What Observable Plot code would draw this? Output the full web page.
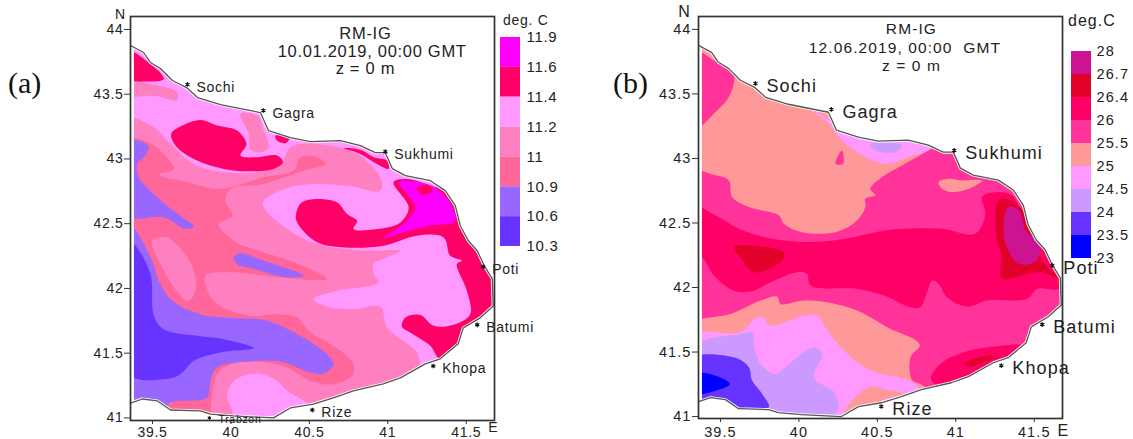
<!DOCTYPE html>
<html><head><meta charset="utf-8">
<script src="https://cdn.jsdelivr.net/npm/d3@7"></script>
<script src="https://cdn.jsdelivr.net/npm/@observablehq/plot@0.6"></script>
<style>
html,body{margin:0;padding:0;background:#fff;width:1133px;height:439px;overflow:hidden}
#root{position:relative;width:1133px;height:439px}
#root>div{position:absolute}
svg{overflow:visible;background:none!important}
.tag{font-family:"Liberation Serif",serif;font-size:30px;color:#111;line-height:32px}
</style></head><body><div id="root"></div>
<script>
const lonDomain=[39.36,41.68], xTicks=[39.5,40,40.5,41,41.5], yTicks=[41,41.5,42,42.5,43,43.5,44];
const coast=[[39.36,43.876],[39.443,43.822],[39.487,43.745],[39.551,43.698],[39.627,43.606],[39.717,43.551],[39.787,43.474],[39.933,43.42],[40.06,43.389],[40.188,43.358],[40.239,43.219],[40.379,43.165],[40.506,43.134],[40.697,43.142],[40.825,43.103],[40.92,43.049],[40.984,43.049],[41.029,42.925],[41.111,42.871],[41.271,42.832],[41.366,42.755],[41.43,42.639],[41.462,42.484],[41.513,42.368],[41.57,42.291],[41.615,42.175],[41.666,42.074],[41.672,41.865],[41.589,41.773],[41.481,41.695],[41.449,41.572],[41.334,41.456],[41.239,41.417],[41.08,41.309],[40.971,41.262],[40.78,41.208],[40.653,41.154],[40.525,41.107],[40.379,41.077],[40.271,41.0],[40.016,41.015],[39.869,41.03],[39.806,41.054],[39.615,41.061],[39.532,41.131],[39.436,41.146],[39.36,41.115]];
const landCorners=[[39.3,41.115],[39.3,40.8],[41.8,40.8],[41.8,44.3],[39.3,44.3],[39.3,43.876]];
const westEdge=39.385;

// Panel (a) legend
const ticksA=["11.9","11.6","11.4","11.2","11","10.9","10.6","10.3"];
const levelsA=["11.6","11.4","11.2","11","10.9","10.6","10.3"];
const colorsA=["#ff00ff","#ff0066","#ff99ff","#ff80c0","#ff6699","#9966ff","#6633ff"];
// Panel (a) isotherm regions, lon/lat, painted in order
const aBase=[[38,40],[43,40],[43,45],[38,45]];
const a11=[[39.3,43.31],[39.49,43.26],[39.615,43.116],[39.763,42.961],[39.954,42.897],[40.167,42.897],[40.315,42.948],[40.38,43.09],[40.549,43.116],[40.804,43.039],[40.952,42.858],[40.952,42.755],[40.74,42.794],[40.42,42.794],[40.209,42.678],[40.209,42.626],[40.358,42.459],[40.549,42.343],[40.719,42.304],[40.889,42.291],[41.08,42.291],[40.995,42.24],[40.91,42.188],[40.91,42.111],[40.94,42.046],[40.676,41.982],[40.528,41.917],[40.613,41.858],[40.783,41.84],[40.952,41.858],[40.995,41.698],[41.186,41.505],[41.207,41.39],[41.29,41.18],[41.3,40.8],[39.3,40.8]];
const a109=[[39.34,43.18],[39.509,43.103],[39.636,42.923],[39.54,42.879],[39.721,42.82],[39.933,42.768],[40.209,42.858],[40.4,42.91],[40.443,43.013],[40.549,43.013],[40.602,42.961],[40.464,42.91],[40.209,42.807],[39.997,42.768],[39.965,42.678],[40.008,42.562],[39.923,42.498],[40.018,42.369],[40.209,42.278],[40.379,42.214],[40.613,42.072],[40.315,42.085],[39.997,42.124],[39.838,42.098],[39.848,41.995],[39.912,41.879],[40.124,41.789],[40.294,41.801],[40.422,41.776],[40.496,41.673],[40.698,41.518],[40.782,41.415],[40.772,41.325],[40.655,41.26],[40.506,41.286],[40.358,41.389],[40.167,41.436],[40.018,41.42],[39.912,41.338],[39.88,41.183],[39.87,41.015],[39.87,40.8],[39.3,40.8],[39.3,43.18]];
const a106North=[[39.34,43.129],[39.424,43.137],[39.477,43.09],[39.445,43.013],[39.402,42.961],[39.413,42.858],[39.53,42.704],[39.647,42.588],[39.763,42.477],[39.71,42.459],[39.572,42.549],[39.34,42.562]];
const a106Wedge=[[40.018,42.24],[40.061,42.271],[40.209,42.214],[40.464,42.098],[40.358,42.085],[40.146,42.15],[40.039,42.188]];
const a106South=[[39.35,42.497],[39.381,42.471],[39.498,42.214],[39.54,42.059],[39.625,41.905],[39.806,41.801],[39.955,41.776],[40.23,41.75],[40.422,41.647],[40.528,41.57],[40.634,41.466],[40.655,41.415],[40.591,41.343],[40.506,41.35],[40.337,41.428],[40.124,41.436],[39.912,41.389],[39.87,41.286],[39.848,41.157],[39.604,41.111],[39.572,41.003],[39.35,41.0]];
const a103=[[39.35,42.368],[39.392,42.33],[39.487,42.111],[39.509,41.789],[39.572,41.685],[39.785,41.634],[39.955,41.608],[40.146,41.539],[39.933,41.505],[39.764,41.441],[39.678,41.338],[39.572,41.299],[39.35,41.338]];
const a112Lobe=[[39.976,41.157],[40.018,41.286],[40.167,41.343],[40.294,41.286],[40.358,41.209],[40.485,41.1],[40.273,40.97],[40.04,40.97],[39.997,41.093]];
const a11Oval=[[39.498,42.369],[39.594,42.394],[39.721,42.24],[39.774,42.085],[39.763,41.943],[39.721,41.905],[39.636,42.008],[39.551,42.188]];
const a114Eddy=[[39.619,43.193],[39.678,43.25],[39.806,43.301],[39.912,43.258],[40.039,43.219],[40.099,43.116],[40.061,43.026],[40.167,43.013],[40.294,43.026],[40.332,42.974],[40.273,42.923],[40.103,42.905],[39.954,42.923],[39.785,42.987],[39.657,43.09]];
const a114Corner=[[39.35,43.83],[39.487,43.734],[39.572,43.618],[39.466,43.598],[39.35,43.618]];
const a11Band=[[39.35,43.58],[39.657,43.515],[39.657,43.456],[39.509,43.489],[39.35,43.489]];
const a11Gagra=[[40.06,43.348],[40.167,43.335],[40.209,43.219],[40.241,43.09],[40.188,43.051],[40.124,43.077],[40.114,43.193],[40.082,43.27]];
const a114Spot=[[40.284,43.18],[40.375,43.167],[40.347,43.121],[40.294,43.142]];
const a114Sukhumi=[[40.719,43.082],[40.825,43.07],[40.91,43.013],[40.995,42.987],[41.005,42.923],[40.931,42.961],[40.825,43.039]];
const a114East=[[40.415,42.575],[40.453,42.665],[40.549,42.691],[40.676,42.665],[40.74,42.575],[40.804,42.523],[40.782,42.459],[40.931,42.459],[41.08,42.51],[41.133,42.626],[41.037,42.82],[41.122,42.845],[41.271,42.794],[41.398,42.73],[41.483,42.497],[41.568,42.291],[41.695,42.059],[41.695,41.853],[41.568,41.724],[41.483,41.66],[41.451,41.557],[41.334,41.454],[41.271,41.557],[41.143,41.66],[41.09,41.704],[41.112,41.776],[41.207,41.794],[41.292,41.711],[41.419,41.719],[41.525,41.801],[41.504,41.982],[41.44,42.188],[41.472,42.214],[41.398,42.252],[41.356,42.394],[41.186,42.407],[40.973,42.33],[40.719,42.317],[40.549,42.356],[40.422,42.51]];
const a116=[[41.069,42.82],[41.249,42.807],[41.366,42.716],[41.43,42.523],[41.271,42.485],[41.122,42.441],[40.973,42.389],[41.058,42.459],[41.133,42.536],[41.175,42.626],[41.111,42.742]];
const a114Streak=[[41.186,42.776],[41.25,42.8],[41.288,42.755],[41.218,42.724]];
const regionsA=[["11.2",aBase],["11",a11],["10.9",a109],["10.6",a106North],["10.6",a106Wedge],["10.6",a106South],["10.3",a103],["11.2",a112Lobe],["11",a11Oval],["11",a11Band],["11",a11Gagra],["11.4",a114Eddy],["11.4",a114Corner],["11.4",a114Spot],["11.4",a114Sukhumi],["11.4",a114East],["11.6",a116],["11.4",a114Streak]];
const citiesA=[["Sochi",39.723,43.575],["Gagra",40.207,43.374],["Sukhumi",40.984,43.056],["Poti",41.608,42.167],["Batumi",41.57,41.719],["Khopa",41.29,41.401],["Rize",40.519,41.061]];
const smallCityA=[["Trabzon",39.863,41.0]];

// Panel (b) legend
const ticksB=["28","26.7","26.4","26","25.5","25","24.5","24","23.5","23"];
const levelsB=["26.7","26.4","26","25.5","25","24.5","24","23.5","23"];
const colorsB=["#cc1493","#e0002a","#ff0066","#ff3399","#ff9999","#ff99ff","#cc99ff","#6633ff","#0000ff"];
// Panel (b) isotherm regions, lon/lat, painted in order
const bBase=[[38,40],[43,40],[43,45],[38,45]];
const b255North=[[39.3,43.85],[39.458,43.76],[39.585,43.644],[39.553,43.476],[39.479,43.372],[39.3,43.2]];
const b255Spot=[[40.233,42.959],[40.275,43.062],[40.282,42.959]];
const b245Coast=[[40.042,43.411],[40.19,43.269],[40.275,43.14],[40.445,42.998],[40.562,42.959],[40.7,43.011],[40.838,43.075],[40.742,43.166],[40.445,43.205],[40.212,43.295]];
const b24Coast=[[40.456,43.114],[40.657,43.101],[40.615,43.049],[40.488,43.062]];
const b255Main=[[39.3,42.894],[39.468,42.869],[39.553,42.83],[39.575,42.701],[39.681,42.623],[39.872,42.559],[39.904,42.494],[40.02,42.429],[40.233,42.429],[40.36,42.507],[40.424,42.623],[40.424,42.688],[40.488,42.714],[40.456,42.765],[40.53,42.856],[40.657,42.946],[40.827,43.062],[40.955,43.14],[41.464,42.933],[41.8,42.5],[41.8,41.7],[41.2,41.12],[40.88,41.175],[40.774,41.253],[40.721,41.284],[40.711,41.46],[40.77,41.558],[40.562,41.692],[40.371,41.821],[40.18,41.886],[40.031,41.899],[39.883,41.873],[39.861,41.93],[39.755,41.899],[39.564,41.795],[39.384,41.757],[39.3,41.72]];
const b25Sukhumi=[[40.891,42.817],[40.955,42.843],[41.039,42.83],[41.167,42.83],[41.082,42.765],[40.976,42.739],[40.912,42.765]];
const b26Main=[[39.3,42.649],[39.468,42.559],[39.617,42.455],[39.829,42.378],[40.084,42.352],[40.296,42.378],[40.487,42.429],[40.657,42.455],[40.912,42.455],[41.124,42.416],[41.188,42.571],[41.167,42.701],[41.252,42.739],[41.358,42.714],[41.464,42.468],[41.677,42.132],[41.73,42.08],[41.656,41.989],[41.518,41.989],[41.454,41.912],[41.199,41.899],[41.072,41.852],[40.944,41.925],[40.891,42.028],[40.849,42.054],[40.817,41.963],[40.774,41.847],[40.711,41.847],[40.541,41.938],[40.371,41.989],[40.074,42.015],[40.052,42.106],[39.989,42.119],[39.819,42.041],[39.713,41.976],[39.596,41.971],[39.458,42.093],[39.384,42.235],[39.3,42.286]];
const b26Khopa=[[40.842,41.305],[40.902,41.408],[41.05,41.498],[41.305,41.55],[41.422,41.55],[41.305,41.434],[41.093,41.305],[40.944,41.24],[40.859,41.258]];
const b264Khopa=[[41.05,41.408],[41.156,41.46],[41.273,41.472],[41.178,41.421],[41.082,41.387]];
const b264West=[[39.585,42.312],[39.692,42.325],[39.904,42.274],[39.893,42.209],[39.713,42.118],[39.628,42.235]];
const b264East=[[41.262,42.649],[41.294,42.688],[41.411,42.623],[41.507,42.365],[41.549,42.21],[41.645,42.08],[41.549,42.119],[41.422,42.093],[41.294,42.068],[41.284,42.158],[41.294,42.236],[41.262,42.365]];
const b267=[[41.326,42.61],[41.358,42.628],[41.411,42.584],[41.443,42.442],[41.528,42.352],[41.517,42.21],[41.4,42.184],[41.326,42.313],[41.305,42.442]];
const b245South=[[39.3,41.628],[39.628,41.653],[39.723,41.764],[39.776,41.764],[39.819,41.705],[40.031,41.783],[40.116,41.783],[40.169,41.692],[40.286,41.511],[40.456,41.356],[40.743,41.253],[40.796,41.072],[40.244,40.9],[39.3,40.9]];
const b25Rize=[[40.329,41.111],[40.456,41.232],[40.541,41.214],[40.668,41.175],[40.541,41.124],[40.583,41.072],[40.286,41.02]];
const b24South=[[39.3,41.524],[39.628,41.64],[39.702,41.653],[39.713,41.563],[39.755,41.408],[39.851,41.33],[39.925,41.395],[40.095,41.537],[40.148,41.485],[40.095,41.304],[40.233,41.175],[40.233,41.02],[39.82,40.9],[39.3,40.9]];
const b235=[[39.3,41.447],[39.596,41.455],[39.681,41.382],[39.702,41.279],[39.766,41.175],[39.808,41.072],[39.607,41.059],[39.3,41.15]];
const b23=[[39.3,41.33],[39.469,41.317],[39.56,41.253],[39.469,41.201],[39.3,41.175]];
const regionsB=[["25",bBase],["25.5",b255North],["25.5",b255Spot],["24.5",b245Coast],["24",b24Coast],["25.5",b255Main],["25",b25Sukhumi],["26",b26Main],["26",b26Khopa],["26.4",b264Khopa],["26.4",b264West],["26.4",b264East],["26.7",b267],["24.5",b245South],["25",b25Rize],["24",b24South],["23.5",b235],["23",b23]];
const citiesB=[["Sochi",39.723,43.581],["Gagra",40.207,43.38],["Sukhumi",40.99,43.062],["Poti",41.615,42.171],["Batumi",41.551,41.713],["Khopa",41.29,41.395],["Rize",40.525,41.078]];

const titleA=[["RM-IG",40.857,43.969],["10.01.2019, 00:00 GMT",40.9,43.83],["z = 0 m",40.857,43.698]];
const titleB=[["RM-IG",40.717,44.0],["12.06.2019, 00:00  GMT",40.676,43.853],["z = 0 m",40.717,43.713]];
const cornersA=[["N",39.296,44.115],["E",41.672,40.925]];
const cornersB=[["N",39.271,44.132],["E",41.685,40.89]];

const root=document.getElementById("root");
const put=(node,left,top)=>{const d=document.createElement("div");d.style.left=left+"px";d.style.top=top+"px";d.append(node);root.append(d);return d;};

function panel(o){
  const rows=o.regions.flatMap(([level,pts],id)=>pts.map(([lon,lat])=>({id,level,lon,lat})));
  const land=[...coast,...landCorners];
  const txt=(data,opts)=>Plot.text(data,{text:d=>d[0],x:d=>d[1],y:d=>d[2],fill:"#222",...opts});
  return Plot.plot({
    width:o.width,height:439,marginLeft:o.ml,marginRight:4,marginTop:16,marginBottom:o.mb,
    x:{domain:lonDomain},y:{domain:o.latDomain},
    color:{type:"ordinal",domain:o.levels,range:o.colors},
    style:{fontFamily:"Liberation Sans, Arial, sans-serif",letterSpacing:o.ls+"px",background:"none",overflow:"visible"},
    marks:[
      Plot.line(rows,{x:"lon",y:"lat",z:"id",fill:"level",stroke:null,curve:"catmull-rom-closed",clip:true}),
      Plot.rect([[lonDomain[0],westEdge]],{x1:d=>d[0],x2:d=>d[1],y1:40.8,y2:44.3,fill:"white",clip:true}),
      Plot.line(land,{x:d=>d[0],y:d=>d[1],fill:"white",stroke:"white",strokeWidth:3,curve:"linear-closed",clip:true}),
      Plot.line(coast,{x:d=>d[0],y:d=>d[1],stroke:"#555",strokeWidth:1.3,clip:true}),
      Plot.frame({stroke:"#333",strokeWidth:1.7}),
      Plot.axisX({ticks:xTicks,tickSize:4,tickPadding:o.xPad,tickFormat:d=>String(d),fontSize:o.tick,label:null,stroke:"#333",fill:"#222"}),
      Plot.axisY({ticks:yTicks,tickSize:6,tickPadding:1,tickFormat:d=>String(d),fontSize:o.tick,label:null,stroke:"#333",fill:"#222"}),
      txt(o.title,{fontSize:o.titleSize}),
      txt(o.corners,{fontSize:o.cornerSize}),
      Plot.dot(o.cities,{x:d=>d[1],y:d=>d[2],symbol:"asterisk",r:2.2,stroke:"#111",strokeWidth:1.2}),
      txt(o.cities,{fontSize:o.citySize,textAnchor:"start",dx:o.cityDx,dy:3}),
      ...(o.small?[Plot.dot(o.small,{x:d=>d[1],y:d=>d[2],symbol:"asterisk",r:1.8,stroke:"#111",strokeWidth:1}),
        txt(o.small,{fontSize:10.5,textAnchor:"start",dx:9,dy:2})]:[])
    ]
  });
}
function legend(o){
  const n=o.levels.length;
  return Plot.plot({
    width:o.width,height:o.height,marginLeft:2,marginRight:o.width-2-20,marginTop:o.top,marginBottom:o.height-o.bottom,
    x:{domain:[0,1],axis:null},y:{domain:[n,0],axis:null},
    color:{type:"ordinal",domain:o.levels,range:o.colors},
    style:{fontFamily:"Liberation Sans, Arial, sans-serif",letterSpacing:o.ls+"px",background:"none",overflow:"visible"},
    marks:[
      Plot.rect(o.levels,{x1:0,x2:1,y1:(d,i)=>i,y2:(d,i)=>i+1,fill:d=>d}),
      Plot.text(o.ticks,{x:1,y:(d,i)=>i,text:d=>d,textAnchor:"start",dx:o.dx,fontSize:o.size,fill:"#222"})
    ]
  });
}

put(panel({width:498,ml:130,mb:19,latDomain:[40.98,44.1],regions:regionsA,levels:levelsA,colors:colorsA,title:titleA,corners:cornersA,cities:citiesA,small:smallCityA,ls:0.7,tick:14,titleSize:16.5,cornerSize:14,citySize:14,cityDx:9,xPad:3}),0,0);
put(panel({width:500,ml:132,mb:21,latDomain:[40.985,44.1],regions:regionsB,levels:levelsB,colors:colorsB,title:titleB,corners:cornersB,cities:citiesB,ls:1.1,tick:14.5,titleSize:15.5,cornerSize:16,citySize:18,cityDx:11,xPad:4}),566,0);
put(legend({width:80,height:260,top:37,bottom:246,levels:levelsA,colors:colorsA,ticks:ticksA,ls:0.7,dx:6,size:15}),498,0);
put(legend({width:64,height:270,top:51,bottom:258,levels:levelsB,colors:colorsB,ticks:ticksB,ls:1.1,dx:5,size:14.5}),1069,0);

const label=(s,left,top,size,ls)=>{const d=document.createElement("div");d.textContent=s;d.style.cssText=`left:${left}px;top:${top}px;font:${size}px "Liberation Sans",Arial,sans-serif;letter-spacing:${ls}px;color:#222;line-height:16px`;root.append(d);};
label("deg. C",503,12,14,0.7);
label("deg.C",1068,13,16,1);
const tag=(s,left)=>{const d=document.createElement("div");d.textContent=s;d.className="tag";d.style.left=left+"px";d.style.top="67px";root.append(d);};
tag("(a)",8);tag("(b)",613);
</script></body></html>
